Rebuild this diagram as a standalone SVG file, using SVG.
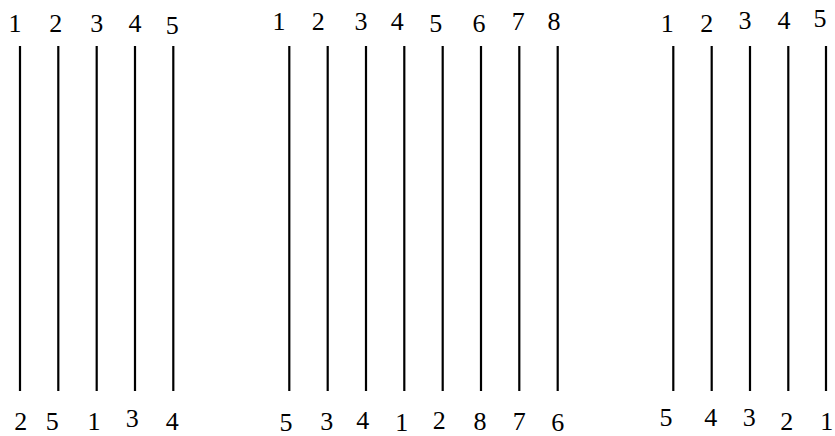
<svg xmlns="http://www.w3.org/2000/svg" width="835" height="436" viewBox="0 0 835 436">
<style>
.t text{font-size:26px;fill:#000;text-anchor:middle}
.w{stroke:#000;stroke-width:2.2;fill:none}
</style>
<rect width="835" height="436" fill="#fff"/>
<g id="connectors">
<line class="w" x1="20" y1="46" x2="20" y2="391"/>
<line class="w" x1="58.3" y1="46" x2="58.3" y2="391"/>
<line class="w" x1="96.7" y1="46" x2="96.7" y2="391"/>
<line class="w" x1="135" y1="46" x2="135" y2="391"/>
<line class="w" x1="173.3" y1="46" x2="173.3" y2="391"/>
<line class="w" x1="289.3" y1="46" x2="289.3" y2="391"/>
<line class="w" x1="327.7" y1="46" x2="327.7" y2="391"/>
<line class="w" x1="366" y1="46" x2="366" y2="391"/>
<line class="w" x1="404.3" y1="46" x2="404.3" y2="391"/>
<line class="w" x1="442.7" y1="46" x2="442.7" y2="391"/>
<line class="w" x1="481" y1="46" x2="481" y2="391"/>
<line class="w" x1="519.3" y1="46" x2="519.3" y2="391"/>
<line class="w" x1="557.7" y1="46" x2="557.7" y2="391"/>
<line class="w" x1="673.3" y1="46" x2="673.3" y2="391"/>
<line class="w" x1="711.7" y1="46" x2="711.7" y2="391"/>
<line class="w" x1="750" y1="46" x2="750" y2="391"/>
<line class="w" x1="788.3" y1="46" x2="788.3" y2="391"/>
<line class="w" x1="826" y1="46" x2="826" y2="391"/>
</g>
<g class="t" font-family="Liberation Serif, Times New Roman, serif">
<g id="group1-top">
<text x="15" y="32">1</text>
<text x="55.7" y="32">2</text>
<text x="96.7" y="32">3</text>
<text x="135" y="32">4</text>
<text x="172.3" y="34">5</text>
</g>
<g id="group1-bottom">
<text x="20.7" y="430">2</text>
<text x="52.3" y="429.5">5</text>
<text x="94" y="430">1</text>
<text x="132.3" y="427">3</text>
<text x="172.3" y="429.5">4</text>
</g>
<g id="group2-top">
<text x="279" y="30">1</text>
<text x="318.3" y="30">2</text>
<text x="361" y="30">3</text>
<text x="397.3" y="30">4</text>
<text x="435.7" y="32.3">5</text>
<text x="479" y="32.3">6</text>
<text x="518.3" y="30">7</text>
<text x="554" y="30">8</text>
</g>
<g id="group2-bottom">
<text x="286" y="430.5">5</text>
<text x="326.7" y="430">3</text>
<text x="362.7" y="428.5">4</text>
<text x="401.7" y="430.5">1</text>
<text x="439.3" y="429">2</text>
<text x="480" y="429.5">8</text>
<text x="519.3" y="429.5">7</text>
<text x="557.7" y="430.5">6</text>
</g>
<g id="group3-top">
<text x="667.3" y="32.3">1</text>
<text x="706.7" y="32.3">2</text>
<text x="745" y="29">3</text>
<text x="784" y="29">4</text>
<text x="820" y="26.7">5</text>
</g>
<g id="group3-bottom">
<text x="666" y="426">5</text>
<text x="710.7" y="426">4</text>
<text x="749.3" y="425.5">3</text>
<text x="786.7" y="429.5">2</text>
<text x="826.7" y="429.5">1</text>
</g>
</g>
</svg>
